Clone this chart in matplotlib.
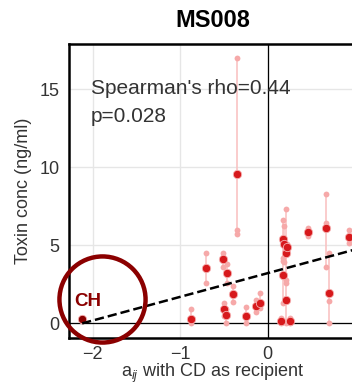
import numpy as np
import matplotlib
matplotlib.use("Agg")
import matplotlib.pyplot as plt

plt.rcParams['font.family'] = ['Liberation Sans', 'DejaVu Sans']
plt.rcParams['mathtext.fontset'] = 'custom'
plt.rcParams['mathtext.rm'] = 'Liberation Sans'
plt.rcParams['mathtext.it'] = 'Liberation Sans:italic'

# data
title = "MS008"
acd = [-2.12, -0.88, -0.70, -0.51, -0.47, -0.40, -0.50, -0.48, -0.25, -0.13,
       -0.09, -0.35, 0.175, 0.185, 0.21, 0.225, 0.175, 0.205, 0.15, 0.26,
       0.46, 0.67, 0.70, 0.93]
toxin_mean = [0.24, 0.28, 3.5, 4.1, 3.2, 1.86, 0.92, 0.5, 0.47, 1.09,
              1.26, 9.57, 5.37, 5.1, 4.5, 4.85, 3.1, 1.45, 0.1, 0.1,
              5.85, 6.07, 1.94, 5.53]
toxin_reps = [[0.15, 0.3], [0.0, 0.9], [2.54, 4.47], [3.6, 4.5], [2.6, 3.8],
              [1.37, 2.37], [0.45, 1.3], [0.0, 0.9], [0.0, 1.05], [0.73, 1.5],
              [0.95, 1.94], [5.7, 6.0, 17.0], [4.0, 6.6], [3.9, 6.25],
              [2.75, 7.3], [4.6, 5.1], [1.3, 4.2], [0.0, 2.6], [0.0, 0.3],
              [0.0, 0.35], [5.6, 6.1], [3.6, 6.4, 8.27], [0.0, 1.43, 4.47],
              [5.15, 6.0]]
highlight = 0  # CH
fit_slope = 1.52
fit_intercept = 3.2
rho_text = "Spearman's rho=0.44\np=0.028"

fig = plt.figure(figsize=(3.52, 3.88), dpi=100)
ax = fig.add_axes([69 / 352, 50 / 388, 288 / 352, 294 / 388])

ax.grid(True, color='#e6e6e6', linewidth=1.0)
ax.axvline(0, color='black', linewidth=0.9, zorder=1.8)
ax.axhline(0, color='black', linewidth=0.9, zorder=1.8)

for i, (x, m, reps) in enumerate(zip(acd, toxin_mean, toxin_reps)):
    ax.plot([x, x], [min(reps), max(reps)], color='#f9c3c3', linewidth=1.2, zorder=2)
    ax.plot([x] * len(reps), reps, 'o', color='#f6a9a9', markersize=4.2,
            markeredgewidth=0, zorder=3)
    c = '#8b0000' if i == highlight else '#d7191c'
    ax.plot(x, m, 'o', color=c, markersize=6, markeredgecolor='#f6b0b0',
            markeredgewidth=0.6, zorder=4)

xs = np.array([min(acd), 1.05])
ax.plot(xs, fit_intercept + fit_slope * xs, '--', color='black', linewidth=1.8, zorder=5)

# highlight circle round CH
ax.plot(-1.89, 1.54, 'o', markersize=62, markerfacecolor='none',
        markeredgecolor='#8b0000', markeredgewidth=3.2, clip_on=False, zorder=6)
ax.text(-2.06, 1.35, "CH", color='#8b0000', fontsize=13.5, fontweight='bold',
        ha='center', va='center', zorder=7)

ax.text(0.076, 0.88, rho_text, transform=ax.transAxes, fontsize=15,
        color='#333333', ha='left', va='top', linespacing=1.55, zorder=7)

ax.set_xlim(-2.27, 1.02)
ax.set_ylim(-0.96, 17.9)
ax.set_xticks([-2, -1, 0])
ax.set_yticks([0, 5, 10, 15])
ax.tick_params(length=0, labelsize=13, labelcolor='#333333', pad=7)
ax.tick_params(axis='x', pad=6)
for s in ax.spines.values():
    s.set_linewidth(1.8)
    s.set_color('black')

ax.set_xlabel(r"a$_{ij}$ with CD as recipient", fontsize=13, color='#333333', labelpad=-1)
ax.set_ylabel("Toxin conc (ng/ml)", fontsize=13, color='#333333', labelpad=5)
ax.set_title(title, fontsize=17, fontweight='bold', pad=12)

fig.savefig("out.png", dpi=100)
